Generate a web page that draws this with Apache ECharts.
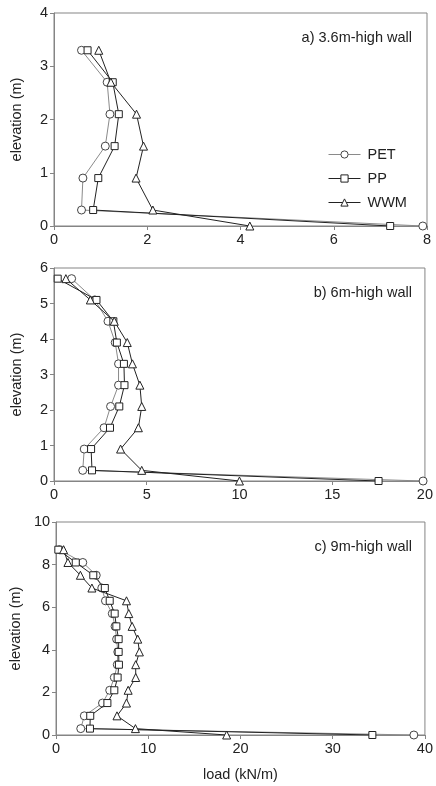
<!DOCTYPE html>
<html>
<head>
<meta charset="utf-8">
<script src="https://cdn.jsdelivr.net/npm/echarts@6/dist/echarts.min.js"></script>
<style>
html,body{margin:0;padding:0;background:#fff;}
#chart{width:436px;height:786px;}
</style>
</head>
<body>
<div id="chart"></div>
<script>
// Panel a) 3.6m-high wall
var elevA = [3.3, 2.7, 2.1, 1.5, 0.9, 0.3, 0];
var petA  = [0.59, 1.14, 1.2, 1.1, 0.62, 0.59, 7.91];
var ppA   = [0.72, 1.26, 1.39, 1.3, 0.95, 0.84, 7.21];
var wwmA  = [0.96, 1.22, 1.77, 1.92, 1.76, 2.12, 4.2];

// Panel b) 6m-high wall
var elevB = [5.7, 5.1, 4.5, 3.9, 3.3, 2.7, 2.1, 1.5, 0.9, 0.3, 0];
var petB  = [0.95, 2.2, 2.91, 3.3, 3.48, 3.48, 3.05, 2.7, 1.63, 1.55, 19.9];
var ppB   = [0.2, 2.29, 3.2, 3.39, 3.77, 3.8, 3.52, 3.02, 2.0, 2.05, 17.5];
var wwmB  = [0.64, 1.96, 3.25, 3.95, 4.23, 4.63, 4.73, 4.55, 3.59, 4.73, 10.0];

// Panel c) 9m-high wall
var elevC = [8.7, 8.1, 7.5, 6.9, 6.3, 5.7, 5.1, 4.5, 3.9, 3.3, 2.7, 2.1, 1.5, 0.9, 0.3, 0];
var petC  = [0.35, 2.9, 4.36, 4.96, 5.36, 6.1, 6.4, 6.57, 6.7, 6.64, 6.32, 5.82, 5.04, 3.07, 2.68, 38.8];
var ppC   = [0.25, 2.14, 4.04, 5.29, 5.82, 6.36, 6.54, 6.79, 6.79, 6.82, 6.68, 6.32, 5.57, 3.71, 3.68, 34.3];
var wwmC  = [0.82, 1.29, 2.64, 3.89, 7.64, 7.89, 8.25, 8.86, 9.04, 8.64, 8.64, 7.82, 7.64, 6.61, 8.61, 18.5];

var seriesNames = ['PET', 'PP', 'WWM'];
var panelTitles = ['a) 3.6m-high wall', 'b) 6m-high wall', 'c) 9m-high wall'];
var xMax = [8, 20, 40], xInt = [2, 5, 10];
var yMax = [4, 6, 10], yInt = [1, 1, 2];

var panels = [
  {elev: elevA, vals: [petA, ppA, wwmA]},
  {elev: elevB, vals: [petB, ppB, wwmB]},
  {elev: elevC, vals: [petC, ppC, wwmC]}
];

var FONT = "'Liberation Sans', Arial, sans-serif";
var TXT = '#222';
var AX = '#858585';
var tops = [13, 268, 522];
var H = 213;

var grids = [], xAxes = [], yAxes = [], series = [], titles = [];
var symbols = ['circle', 'rect', 'triangle'];
var symSizes = [8, 7, 8];
var lineColors = ['#8a8a8a', '#222', '#222'];
var markColors = ['#444', '#222', '#222'];

panels.forEach(function (p, i) {
  grids.push({left: 54, right: 9, top: tops[i], height: H, show: true, borderColor: AX, borderWidth: 1, backgroundColor: 'transparent'});
  xAxes.push({
    type: 'value', gridIndex: i, min: 0, max: xMax[i], interval: xInt[i],
    axisLine: {show: true, onZero: false, lineStyle: {color: AX, width: 1}},
    axisTick: {show: true, length: 4, lineStyle: {color: AX}},
    axisLabel: {color: TXT, fontSize: 14.5, fontFamily: FONT, margin: 6},
    splitLine: {show: false},
    name: i === 2 ? 'load (kN/m)' : '', nameLocation: 'middle', nameGap: 32,
    nameTextStyle: {color: TXT, fontSize: 14.5, fontFamily: FONT}
  });
  yAxes.push({
    type: 'value', gridIndex: i, min: 0, max: yMax[i], interval: yInt[i],
    axisLine: {show: true, onZero: false, lineStyle: {color: AX, width: 1}},
    axisTick: {show: true, length: 4, lineStyle: {color: AX}},
    axisLabel: {color: TXT, fontSize: 14.5, fontFamily: FONT, margin: 6},
    splitLine: {show: false},
    name: 'elevation (m)', nameLocation: 'middle', nameGap: 30, nameRotate: 90,
    nameTextStyle: {color: TXT, fontSize: 14.5, fontFamily: FONT}
  });
  titles.push({
    text: panelTitles[i], right: 19, top: tops[i] + 12,
    textStyle: {color: TXT, fontSize: 14.5, fontWeight: 'normal', fontFamily: FONT}
  });
  p.vals.forEach(function (v, k) {
    series.push({
      name: seriesNames[k], type: 'line', xAxisIndex: i, yAxisIndex: i,
      data: v.map(function (x, j) { return [x, p.elev[j]]; }),
      symbol: symbols[k], symbolSize: symSizes[k], showAllSymbol: true,
      lineStyle: {color: lineColors[k], width: 1},
      itemStyle: {color: '#fff', borderColor: markColors[k], borderWidth: 1},
      z: 2 + k, animation: false, silent: true
    });
  });
});

var chart = echarts.init(document.getElementById('chart'), null, {renderer: 'canvas'});
chart.setOption({
  animation: false,
  backgroundColor: '#fff',
  title: titles,
  legend: {
    data: seriesNames,
    orient: 'vertical', left: 323, top: 142, itemWidth: 32, itemHeight: 9, itemGap: 9,
    lineStyle: {width: 1},
    itemStyle: {borderWidth: 1},
    textStyle: {color: TXT, fontSize: 14.5, fontFamily: FONT, padding: [0, 0, 0, 2]},
    selectedMode: false
  },
  grid: grids, xAxis: xAxes, yAxis: yAxes, series: series
});
</script>
</body>
</html>
